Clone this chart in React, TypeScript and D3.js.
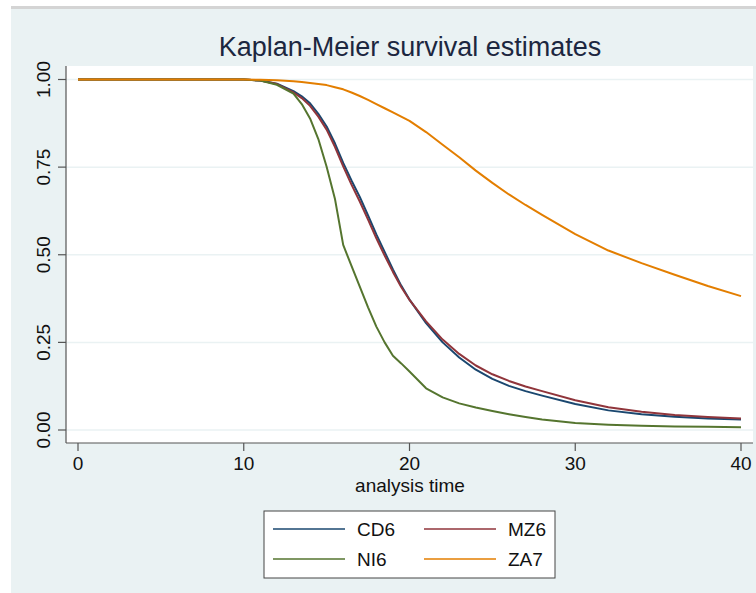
import React from 'react';
import * as d3 from 'd3';

// analysis time points the curves were read at
const times = [0, 10, 11, 12, 13, 13.5, 14, 14.5, 15, 15.5, 16, 16.5, 17, 17.5, 18, 18.5, 19, 19.5, 20, 21, 22, 23, 24, 25, 26, 27, 28, 30, 32, 34, 36, 38, 40];

const cd6 = [1, 1, 0.997, 0.988, 0.967, 0.952, 0.932, 0.902, 0.866, 0.818, 0.762, 0.712, 0.665, 0.612, 0.558, 0.508, 0.458, 0.412, 0.372, 0.305, 0.25, 0.207, 0.172, 0.146, 0.126, 0.111, 0.098, 0.074, 0.056, 0.045, 0.038, 0.033, 0.03];
const mz6 = [1, 1, 0.997, 0.987, 0.963, 0.947, 0.925, 0.894, 0.857, 0.808, 0.752, 0.7, 0.652, 0.6, 0.547, 0.498, 0.451, 0.408, 0.371, 0.31, 0.258, 0.217, 0.184, 0.159, 0.14, 0.124, 0.111, 0.085, 0.065, 0.052, 0.043, 0.037, 0.033];
const ni6 = [1, 1, 0.997, 0.985, 0.96, 0.93, 0.889, 0.83, 0.751, 0.66, 0.528, 0.468, 0.409, 0.35, 0.295, 0.25, 0.212, 0.19, 0.167, 0.119, 0.093, 0.076, 0.064, 0.054, 0.045, 0.037, 0.03, 0.02, 0.015, 0.012, 0.01, 0.009, 0.008];
const za7 = [1, 1, 0.999, 0.998, 0.995, 0.993, 0.99, 0.987, 0.984, 0.978, 0.972, 0.963, 0.953, 0.942, 0.93, 0.918, 0.906, 0.894, 0.882, 0.85, 0.814, 0.778, 0.74, 0.705, 0.672, 0.642, 0.614, 0.559, 0.512, 0.476, 0.443, 0.411, 0.382];

const seriesNames = ['CD6', 'MZ6', 'NI6', 'ZA7'];
const seriesValues = [cd6, mz6, ni6, za7];
const seriesColors = ['#1a476f', '#90353b', '#55752f', '#e37e00'];

const xTicks = [0, 10, 20, 30, 40];
const yTicks = [0, 0.25, 0.5, 0.75, 1];

const W = 756;
const H = 593;
const plot = {left: 66, right: 753, top: 66, bottom: 443};
const FONT = '"Liberation Sans", Arial, sans-serif';

const x = d3.scaleLinear().domain([0, 40]).range([78, 741]);
const y = d3.scaleLinear().domain([0, 1]).range([430, 79.5]);

const line = d3
  .line<number>()
  .x((d, i) => x(times[i]))
  .y(d => y(d));

// legend layout: two columns, two rows
const legendCols = [273, 424];
const legendRows = [529, 559];

export default function App() {
  return (
    <svg
      width={W}
      height={H}
      style={{position: 'absolute', left: 0, top: 0, background: '#fff'}}
      fontFamily={FONT}
    >
      <rect x={11} y={6} width={W - 11} height={3} fill="#d4d4d4" />
      <rect x={11} y={9} width={W - 11} height={H - 9} fill="#eaf2f3" />

      <text x={410} y={56} textAnchor="middle" fontSize={27} fill="#1c2740">
        Kaplan-Meier survival estimates
      </text>

      <rect
        x={plot.left}
        y={plot.top}
        width={plot.right - plot.left}
        height={plot.bottom - plot.top}
        fill="#fff"
      />

      {yTicks.map(t => (
        <line
          key={'g' + t}
          x1={plot.left}
          x2={plot.right}
          y1={y(t)}
          y2={y(t)}
          stroke="#eaf2f3"
          strokeWidth={1.5}
        />
      ))}

      {seriesValues.map((vals, i) => (
        <path
          key={seriesNames[i]}
          d={line(vals) || ''}
          fill="none"
          stroke={seriesColors[i]}
          strokeWidth={2}
          strokeLinejoin="round"
        />
      ))}

      {/* axes */}
      <line x1={plot.left} x2={plot.left} y1={plot.top} y2={plot.bottom} stroke="#555" strokeWidth={1.2} />
      <line x1={plot.left} x2={plot.right} y1={plot.bottom} y2={plot.bottom} stroke="#555" strokeWidth={1.2} />

      {yTicks.map(t => (
        <g key={'y' + t}>
          <line x1={plot.left - 8} x2={plot.left} y1={y(t)} y2={y(t)} stroke="#555" strokeWidth={1.2} />
          <text
            transform={`translate(43,${y(t)}) rotate(-90)`}
            textAnchor="middle"
            dominantBaseline="central"
            fontSize={19}
            fill="#111"
          >
            {d3.format('.2f')(t)}
          </text>
        </g>
      ))}

      {xTicks.map(t => (
        <g key={'x' + t}>
          <line x1={x(t)} x2={x(t)} y1={plot.bottom} y2={plot.bottom + 8} stroke="#555" strokeWidth={1.2} />
          <text x={x(t)} y={470} textAnchor="middle" fontSize={19} fill="#111">
            {t}
          </text>
        </g>
      ))}

      <text x={410} y={492} textAnchor="middle" fontSize={19} fill="#111">
        analysis time
      </text>

      {/* legend */}
      <rect x={264} y={511} width={291} height={67} fill="#fff" stroke="#444" strokeWidth={1} />
      {seriesNames.map((name, i) => {
        const cx = legendCols[i % 2];
        const cy = legendRows[Math.floor(i / 2)];
        return (
          <g key={'l' + name}>
            <line x1={cx} x2={cx + 72} y1={cy} y2={cy} stroke={seriesColors[i]} strokeWidth={1.5} />
            <text x={cx + 84} y={cy} dominantBaseline="central" fontSize={19} fill="#111">
              {name}
            </text>
          </g>
        );
      })}
    </svg>
  );
}
